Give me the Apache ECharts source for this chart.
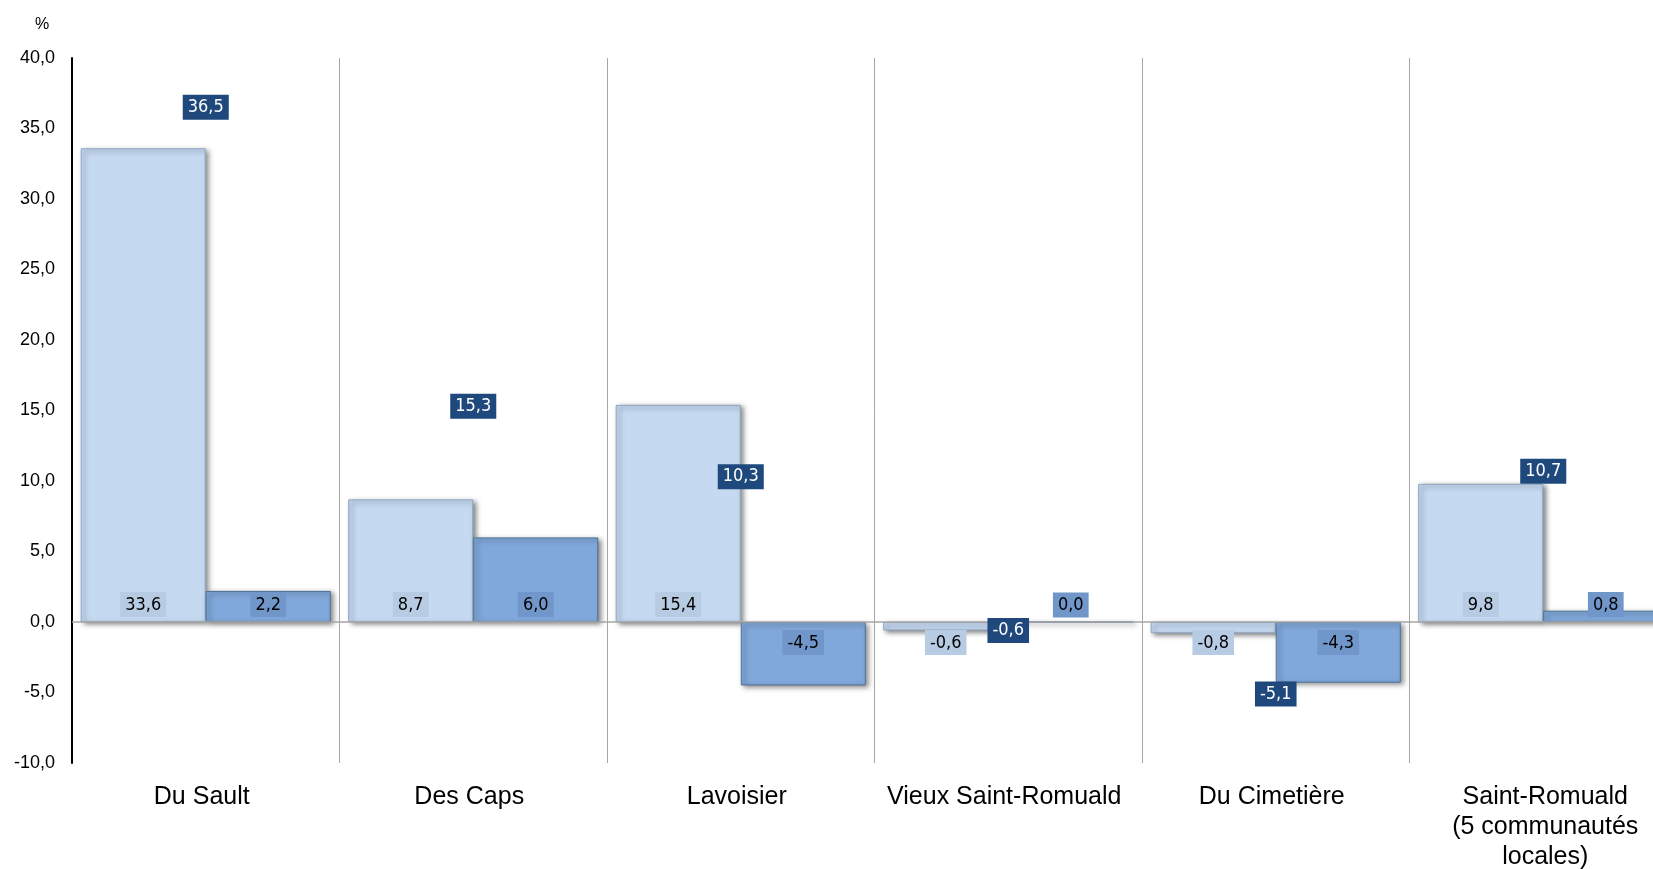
<!DOCTYPE html>
<html>
<head>
<meta charset="utf-8">
<script src="https://cdn.jsdelivr.net/npm/echarts@6/dist/echarts.min.js"></script>
<style>
html,body{margin:0;padding:0;background:#fff;}
#chart{width:1653px;height:869px;}
</style>
</head>
<body>
<div id="chart"></div>
<script>
const categories = ['Du Sault', 'Des Caps', 'Lavoisier', 'Vieux Saint-Romuald', 'Du Cimetière', 'Saint-Romuald\n(5 communautés\nlocales)'];
const seriesLight = [33.6, 8.7, 15.4, -0.6, -0.8, 9.8];
const seriesMedium = [2.2, 6.0, -4.5, 0.0, -4.3, 0.8];
const seriesDark = [36.5, 15.3, 10.3, -0.6, -5.1, 10.7];
const yTicks = { min: -10, max: 40, interval: 5 };

const narrow = "'Liberation Sans Narrow', 'Arial Narrow', 'DejaVu Sans Condensed', sans-serif";
const sans = "'Liberation Sans', Arial, sans-serif";
const fmt = v => v.toFixed(1).replace('.', ',');

function barData(arr, bg) {
  return arr.map(v => ({
    value: v,
    label: {
      show: true,
      position: v < 0 ? 'insideTop' : 'insideBottom',
      distance: v < 0 ? 8 : 5,
      formatter: () => fmt(v),
      fontFamily: narrow,
      fontSize: 18,
      color: '#000',
      backgroundColor: bg,
      padding: [4, 5, 3, 5]
    }
  }));
}

const catData = categories.map((c, i) => ({
  value: c,
  textStyle: { padding: i === categories.length - 1 ? [0, 0, 0, 4] : [0, 8, 0, 0] }
}));

const chart = echarts.init(document.getElementById('chart'), null, { renderer: 'canvas' });
chart.setOption({
  animation: false,
  backgroundColor: '#fff',
  title: {
    text: '%', left: 30, top: 12,
    textStyle: { fontFamily: sans, fontSize: 16, fontWeight: 'normal', color: '#000' }
  },
  grid: { left: 72, top: 58, right: -24, bottom: 106, containLabel: false, outerBoundsMode: 'none' },
  xAxis: {
    type: 'category',
    data: catData,
    axisLine: { show: false, onZero: false },
    axisTick: { show: false },
    splitLine: { show: true, interval: 0, lineStyle: { color: '#A6A6A6', width: 1 } },
    axisLabel: {
      interval: 0, margin: 19,
      fontFamily: sans, fontSize: 25, color: '#000',
      lineHeight: 30, align: 'center'
    }
  },
  yAxis: {
    type: 'value',
    min: yTicks.min, max: yTicks.max, interval: yTicks.interval,
    axisLine: { show: true, onZero: false, lineStyle: { color: '#000', width: 2 } },
    axisTick: { show: false },
    splitLine: { show: false },
    axisLabel: {
      margin: 17, formatter: v => fmt(v),
      fontFamily: sans, fontSize: 18, color: '#000'
    }
  },
  series: [
    {
      type: 'bar',
      data: barData(seriesLight, '#B7CBE3'),
      barGap: '0%',
      barCategoryGap: '6.5%',
      itemStyle: {
        color: '#C5D9F1', borderColor: '#8FA6C2', borderWidth: 1,
        shadowColor: 'rgba(0,0,0,0.5)', shadowBlur: 5, shadowOffsetX: 3, shadowOffsetY: 2
      },
      markLine: {
        silent: true, symbol: 'none', label: { show: false },
        lineStyle: { color: '#A6A6A6', width: 1.5, type: 'solid' },
        data: [{ yAxis: 0 }]
      },
      z: 3
    },
    {
      type: 'bar',
      data: barData(seriesMedium, '#7196CA'),
      itemStyle: {
        color: '#80A8DA', borderColor: '#4F739C', borderWidth: 1,
        shadowColor: 'rgba(0,0,0,0.5)', shadowBlur: 5, shadowOffsetX: 3, shadowOffsetY: 2
      },
      z: 3
    },
    {
      type: 'scatter',
      data: seriesDark,
      symbolSize: 1,
      itemStyle: { color: 'rgba(0,0,0,0)', opacity: 1 },
      label: {
        show: true, position: 'inside',
        formatter: p => fmt(p.value),
        fontFamily: narrow, fontSize: 18, color: '#fff',
        backgroundColor: '#1F497D', padding: [4, 5, 3, 5]
      },
      z: 10
    }
  ]
});
</script>
</body>
</html>
